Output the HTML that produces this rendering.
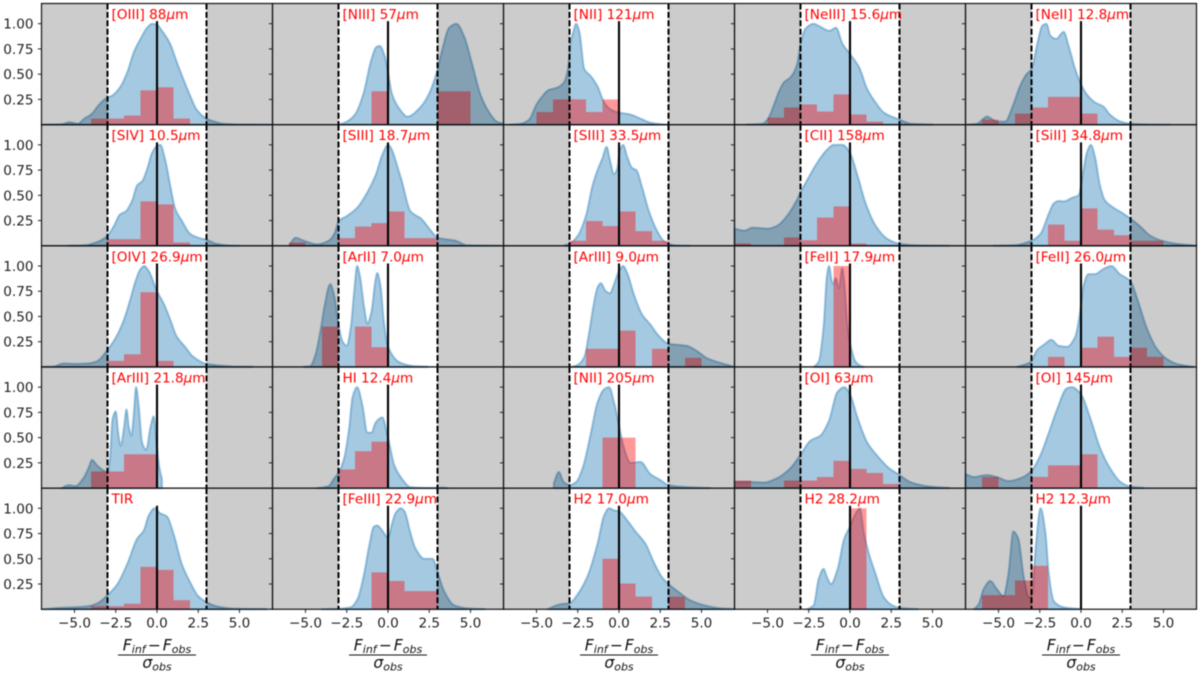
<!DOCTYPE html>
<html lang="en">
<head>
<meta charset="utf-8">
<title>Line flux residual distributions</title>
<style>
html,body{margin:0;padding:0;background:#fff;width:1200px;height:673px;overflow:hidden}
svg{display:block;filter:blur(0.45px)}
text{font-family:"DejaVu Sans","Liberation Sans",sans-serif}
</style>
</head>
<body>
<svg id="chart" xmlns="http://www.w3.org/2000/svg" width="1200" height="673" viewBox="0 0 1200 673"></svg>
<script>
const lineLabels = ['[OIII] 88','[NIII] 57','[NII] 121','[NeIII] 15.6','[NeII] 12.8',
'[SIV] 10.5','[SIII] 18.7','[SIII] 33.5','[CII] 158','[SiII] 34.8',
'[OIV] 26.9','[ArII] 7.0','[ArIII] 9.0','[FeII] 17.9','[FeII] 26.0',
'[ArIII] 21.8','HI 12.4','[NII] 205','[OI] 63','[OI] 145',
'TIR','[FeIII] 22.9','H2 17.0','H2 28.2','H2 12.3'];
const xTicks = [-5,-2.5,0,2.5,5];
const xTickLabels = ['\u22125.0','\u22122.5','0.0','2.5','5.0'];
const yTicks = [0.25,0.5,0.75,1];
const yTickLabels = ['0.25','0.50','0.75','1.00'];
const binEdges = [-7,-6,-5,-4,-3,-2,-1,0,1,2,3,4,5,6,7];
const limitSigma = 3;

const histValues = [
[0,0,0,.06,.06,.09,.34,.37,.06,0,0,0,0,0],
[0,0,0,0,0,0,.33,0,0,0,.33,.33,0,0],
[0,0,.125,.25,.25,.125,.25,0,0,0,0,0,0,0],
[0,0,.07,.17,.2,.13,.3,.1,.03,0,0,0,0,0],
[0,.05,0,.11,.17,.275,.275,.11,0,0,0,0,0,0],
[0,0,0,0,.066,.066,.44,.41,.033,0,0,0,0,0],
[0,.033,0,0,.076,.19,.225,.34,.076,.076,0,0,0,0],
[0,0,0,0,.05,.245,.195,.34,.145,.05,0,0,0,0],
[.023,0,0,.083,.055,.28,.39,.023,0,0,0,0,0,0],
[0,0,0,0,0,.21,.05,.37,.16,.105,.05,.05,0,0],
[0,0,0,0,.06,.125,.74,.06,0,0,0,0,0,0],
[0,0,0,.4,0,.4,.195,0,0,0,0,0,0,0],
[0,0,0,0,0,.18,.18,.36,0,.18,0,.09,0,0],
[0,0,0,0,0,0,1,0,0,0,0,0,0,0],
[0,0,0,0,0,.1,0,.19,.3,.1,.19,.1,0,0],
[0,0,0,.165,.165,.335,.335,0,0,0,0,0,0,0],
[0,0,0,0,.185,.365,.46,0,0,0,0,0,0,0],
[0,0,0,0,0,0,.5,.5,0,0,0,0,0,0],
[.075,0,0,.075,.075,.11,.27,.19,.15,.04,0,0,0,0],
[0,.11,0,0,.11,.225,.225,.335,0,0,0,0,0,0],
[0,0,0,.03,.03,.055,.42,.39,.09,0,0,0,0,0],
[0,0,0,0,0,0,.365,.28,.18,.18,0,0,0,0],
[0,0,0,0,0,0,.5,.255,.125,0,.125,0,0,0],
[0,0,0,0,0,0,0,1,0,0,0,0,0,0],
[0,.14,.14,.285,.43,0,0,0,0,0,0,0,0,0]
];

const kdeCurves = [
[[-7,0],[-5.8,.005],[-5.3,.025],[-4.8,.01],[-4.4,.06],[-4,.1],[-3.5,.2],[-3.1,.26],[-2.7,.29],[-2.2,.38],[-1.8,.52],[-1.4,.72],[-1,.85],[-.6,.96],[-.3,1],[0,.99],[.3,.93],[.8,.8],[1.2,.62],[1.6,.45],[2,.29],[2.4,.15],[3,.06],[3.5,.03],[4,.01],[5,.002],[6.9,0]],
[[-3,0],[-2.9,.005],[-2.5,.03],[-2,.1],[-1.5,.3],[-1,.65],[-.7,.77],[-.5,.78],[-.2,.68],[0,.52],[.25,.3],[.77,.14],[1.17,.08],[2,.18],[2.5,.31],[2.9,.49],[3,.55],[3.3,.75],[3.7,.96],[4.15,1],[4.6,.88],[5.1,.6],[5.6,.3],[6.1,.13],[6.6,.03],[7,.01]],
[[-6.65,0],[-5.95,.01],[-5.45,.05],[-5,.2],[-4.7,.27],[-4.3,.34],[-3.7,.37],[-3.3,.43],[-3.1,.55],[-2.9,.85],[-2.8,.9],[-2.6,1],[-2.4,.92],[-2.1,.55],[-1.7,.48],[-1.3,.38],[-.9,.22],[-.5,.15],[0,.12],[.7,.1],[1.3,.06],[1.9,.02],[2.7,.003],[3,0]],
[[-6.3,0],[-5.3,.01],[-5,.05],[-4.6,.2],[-4.3,.33],[-4,.42],[-3.6,.47],[-3.2,.6],[-3,.8],[-2.7,.95],[-2.2,1],[-1.8,.97],[-1.25,.93],[-.85,.96],[-.45,.8],[0,.7],[.55,.57],[1.05,.35],[1.55,.22],[2.05,.12],[3,.05],[3.7,.01],[5,.001]],
[[-6.9,0],[-6.3,.01],[-5.7,.08],[-5.1,.03],[-4.6,.03],[-4.1,.2],[-3.7,.38],[-3.3,.5],[-3,.55],[-2.65,.8],[-2.35,.98],[-2.1,1],[-1.85,.88],[-1.5,.85],[-1.05,.92],[-.75,.78],[-.35,.55],[0,.4],[.35,.3],[.85,.22],[1.35,.18],[1.75,.1],[2.4,.03],[3,.01],[4.2,.002],[5.4,0]],
[[-5.4,0],[-4.4,.005],[-3.6,.04],[-3,.1],[-2.6,.2],[-2.25,.31],[-1.9,.34],[-1.5,.45],[-1.2,.6],[-.9,.64],[-.6,.76],[-.3,.92],[0,.99],[.2,1],[.5,.85],[.8,.6],[1.1,.37],[1.5,.25],[2,.12],[2.5,.08],[3,.06],[3.6,.02],[4.4,.003],[5,0]],
[[-6,0],[-5.6,.08],[-5.1,.05],[-4.3,.015],[-3.6,.05],[-3.25,.12],[-3,.24],[-2.45,.3],[-1.85,.38],[-1.25,.53],[-.75,.7],[-.35,.9],[0,1],[.77,.68],[1.37,.34],[2,.27],[2.6,.15],[3,.08],[4.1,.05],[4.8,.005],[6.8,0]],
[[-3.3,.005],[-3,.02],[-2.5,.1],[-2,.3],[-1.6,.6],[-1.3,.75],[-1,.87],[-.75,.98],[-.55,.85],[-.3,.71],[-.1,.77],[.05,.95],[.25,1],[.5,.88],[.8,.77],[1.05,.75],[1.4,.58],[1.8,.35],[2.3,.15],[2.7,.05],[3,.02],[3.5,.003],[4.3,0]],
[[-7,.17],[-6.4,.15],[-5.9,.18],[-5,.17],[-4.4,.2],[-3.8,.3],[-3.2,.46],[-3,.53],[-2.6,.65],[-2,.82],[-1.4,.95],[-1,1],[-.45,1],[0,.92],[.45,.7],[.95,.42],[1.55,.2],[2.25,.07],[3,.02],[4,.005],[6,0]],
[[-5.3,0],[-4.1,.005],[-3,.05],[-2.45,.12],[-1.95,.32],[-1.65,.42],[-1.35,.445],[-1.05,.44],[-.55,.475],[-.15,.5],[.15,.75],[.35,.92],[.6,1],[.85,.88],[1.15,.6],[1.45,.45],[1.95,.38],[2.45,.33],[3,.27],[3.6,.19],[4.2,.1],[4.9,.05],[5.8,.02],[7,.002]],
[[-7,0],[-6.25,.005],[-5.65,.035],[-5,.03],[-4.2,.035],[-3.6,.06],[-3,.17],[-2.5,.29],[-2,.47],[-1.6,.68],[-1.3,.85],[-1,.97],[-.77,1],[-.5,.95],[0,.75],[.4,.63],[.8,.47],[1.2,.3],[1.7,.2],[2.2,.1],[3,.03],[3.8,.015],[4.6,.005],[5.8,.002]],
[[-5.1,0],[-4.7,.01],[-4.4,.12],[-4.05,.4],[-3.85,.6],[-3.5,.82],[-3.25,.7],[-3,.42],[-2.75,.25],[-2.5,.21],[-2.25,.4],[-2.05,.75],[-1.87,1],[-1.7,.9],[-1.45,.6],[-1.25,.43],[-1,.55],[-.75,.87],[-.65,.93],[-.45,.8],[-.25,.45],[0,.2],[.77,.04],[1.55,.01],[2.4,.003]],
[[-2.9,0],[-2.5,.02],[-2.1,.1],[-1.8,.35],[-1.5,.65],[-1.3,.79],[-1.1,.83],[-.8,.75],[-.55,.73],[-.3,.82],[0,.95],[.25,1],[.5,.93],[.9,.72],[1.4,.52],[1.9,.42],[2.4,.31],[3,.23],[3.5,.22],[4.1,.21],[4.7,.16],[5.3,.09],[5.95,.05],[7,.002]],
[[-2.2,0],[-1.9,.05],[-1.6,.4],[-1.4,.9],[-1.27,1],[-1.1,.85],[-1,.82],[-.87,.88],[-.67,.78],[-.47,.98],[-.35,.85],[-.15,.4],[.05,.2],[.35,.05],[.65,.01],[.85,0]],
[[-3.9,0],[-3.05,.05],[-2.65,.17],[-2.25,.22],[-1.8,.27],[-1.35,.21],[-.85,.2],[-.35,.3],[-.05,.55],[.15,.8],[.45,.92],[.85,.92],[1.35,.97],[1.85,1],[2.35,.92],[3,.85],[3.4,.68],[4,.38],[4.6,.18],[5.2,.08],[5.8,.03],[6.8,.002]],
[[-5.8,0],[-5.35,.03],[-4.95,.02],[-4.45,.1],[-4.1,.22],[-3.95,.28],[-3.6,.22],[-3,.16],[-2.85,.3],[-2.7,.68],[-2.5,.76],[-2.35,.55],[-2.2,.42],[-2,.6],[-1.85,.78],[-1.7,.6],[-1.55,.52],[-1.4,.75],[-1.27,1],[-1.1,.8],[-.9,.45],[-.65,.38],[-.4,.6],[-.2,.71],[0,.4],[.15,.2],[.3,.09]],
[[-4.3,0],[-3.6,.02],[-3.25,.1],[-3,.15],[-2.65,.3],[-2.35,.6],[-2.15,.9],[-1.87,1],[-1.55,.82],[-1.25,.55],[-1,.55],[-.75,.65],[-.35,.7],[0,.5],[.4,.22],[.77,.11],[1.37,.01],[2.8,.002],[3.3,.006],[3.6,0]],
[[-3.95,.05],[-3.65,.16],[-3.35,.06],[-3,.03],[-2.6,.06],[-2.2,.2],[-1.7,.55],[-1.3,.85],[-.9,.98],[-.6,1],[-.3,.85],[0,.62],[.3,.4],[.7,.25],[1.3,.26],[1.9,.14],[2.5,.08],[3,.03],[3.7,.015],[5.5,.001]],
[[-7,.06],[-6,.06],[-5.2,.055],[-4.4,.1],[-3.6,.2],[-3,.33],[-2.4,.47],[-1.8,.52],[-1.27,.67],[-.77,.95],[-.35,1],[0,.93],[.45,.7],[1.05,.45],[1.65,.32],[2.35,.2],[3,.13],[3.65,.06],[4.65,.02],[6,.002]],
[[-7,.14],[-6.5,.11],[-5.7,.13],[-5.1,.11],[-4.4,.07],[-3.65,.1],[-3,.17],[-2.45,.33],[-1.95,.55],[-1.45,.78],[-.85,.99],[-.55,1],[0,.93],[.55,.7],[1.15,.4],[1.75,.2],[2.4,.06],[3,.015],[3.8,.002]],
[[-7,0],[-5.85,.015],[-5.05,.02],[-4.2,.03],[-3.6,.06],[-3,.14],[-2.4,.25],[-1.8,.45],[-1.2,.7],[-.8,.78],[-.5,.93],[-.15,1],[.2,.95],[.6,.92],[1,.75],[1.5,.45],[2,.27],[2.5,.13],[3,.07],[3.6,.03],[4.6,.008],[6.6,.002]],
[[-4,0],[-3,.005],[-2.25,.02],[-1.85,.1],[-1.45,.35],[-1.15,.62],[-.85,.82],[-.65,.83],[-.35,.78],[0,.71],[.25,.85],[.45,.95],[.77,1],[1,.97],[1.37,.75],[1.67,.6],[2.2,.5],[2.7,.5],[3,.37],[3.4,.18],[4,.04],[4.8,.01],[5.85,.002]],
[[-4.35,0],[-3.55,.05],[-3,.06],[-2.5,.15],[-1.9,.33],[-1.3,.65],[-.9,.93],[-.6,1],[-.3,.98],[0,.97],[.5,.88],[1,.77],[1.6,.65],[2.1,.47],[2.6,.32],[3,.25],[3.7,.16],[4.3,.09],[5.15,.04],[6.15,.01],[7,.002]],
[[-2.6,0],[-2.2,.04],[-1.9,.3],[-1.6,.4],[-1.4,.32],[-1.15,.25],[-.75,.4],[-.35,.7],[0,.82],[.35,.95],[.6,1],[.85,.75],[1.15,.55],[1.55,.35],[2.05,.12],[2.55,.04],[3,.015],[4.1,.002]],
[[-6.5,0],[-6.2,.05],[-5.9,.2],[-5.5,.28],[-5.1,.2],[-4.7,.13],[-4.4,.35],[-4.1,.77],[-3.8,.7],[-3.45,.3],[-3.15,.12],[-2.95,.15],[-2.75,.6],[-2.45,1],[-2.15,.75],[-1.95,.35],[-1.65,.08],[-1.05,.02],[0,.002]]
];

const SVGNS = 'http://www.w3.org/2000/svg';
const svg = document.getElementById('chart');
const plotLeft = 41.5, plotTop = 3.5, colStep = 231, rowStep = 121.15;
const xMin = -7, xMax = 7, yMax = 1.2;

function mk(tag, attrs, parent){
  const el = document.createElementNS(SVGNS, tag);
  for (const k in attrs) el.setAttribute(k, attrs[k]);
  parent.appendChild(el);
  return el;
}
function xScale(col, v){ return plotLeft + col*colStep + (v - xMin)/(xMax - xMin)*colStep; }
function yScale(row, v){ return plotTop + (row+1)*rowStep - v/yMax*rowStep; }

function monotonePath(pts){
  const n = pts.length, m = new Array(n), d = [];
  for (let i=0;i<n-1;i++) d.push((pts[i+1][1]-pts[i][1])/(pts[i+1][0]-pts[i][0]));
  m[0]=d[0]; m[n-1]=d[n-2];
  for (let i=1;i<n-1;i++){
    const h0=pts[i][0]-pts[i-1][0], h1=pts[i+1][0]-pts[i][0];
    if (d[i-1]*d[i]<=0) m[i]=0;
    else m[i]=(3*(h0+h1))/((2*h1+h0)/d[i-1]+(h1+2*h0)/d[i]);
  }
  let s='';
  for (let i=0;i<n-1;i++){
    const h=(pts[i+1][0]-pts[i][0])/3;
    s+=' C'+(pts[i][0]+h).toFixed(2)+','+(pts[i][1]+m[i]*h).toFixed(2)+' '+(pts[i+1][0]-h).toFixed(2)+','+(pts[i+1][1]-m[i+1]*h).toFixed(2)+' '+pts[i+1][0].toFixed(2)+','+pts[i+1][1].toFixed(2);
  }
  return s;
}

lineLabels.forEach(function(label, idx){
  const col = idx % 5, row = Math.floor(idx/5);
  const left = xScale(col, xMin), right = xScale(col, xMax);
  const top = yScale(row, yMax), bottom = yScale(row, 0);

  const g = mk('g', {}, svg);
  
  

  const curve = kdeCurves[idx];
  const pxPts = curve.map(function(p){ return [xScale(col,p[0]), yScale(row,p[1])]; });
  const first = pxPts[0], last = pxPts[pxPts.length-1];
  const d = 'M'+first[0].toFixed(2)+','+bottom.toFixed(2)+' L'+first[0].toFixed(2)+','+first[1].toFixed(2)+monotonePath(pxPts)+' L'+last[0].toFixed(2)+','+bottom.toFixed(2)+' Z';
  const kde = mk('path', {d:d, fill:'rgba(31,119,180,0.4)', stroke:'rgba(31,119,180,0.4)', 'stroke-width':2, 'stroke-linejoin':'round'}, g);
  
  

  histValues[idx].forEach(function(h, b){
    if (!h) return;
    const x0 = xScale(col, binEdges[b]), x1 = xScale(col, binEdges[b+1]), y = yScale(row, h);
    const bar = mk('rect', {x:x0, y:y, width:x1-x0, height:bottom-y, fill:'rgba(255,0,0,0.4)'}, g);
    
    
  });

  const gl = xScale(col,-limitSigma), gr = xScale(col,limitSigma);
  const shadeL = mk('rect', {x:left, y:top, width:gl-left, height:bottom-top, fill:'rgba(0,0,0,0.2)'}, g);
  
  
  const shadeR = mk('rect', {x:gr, y:top, width:right-gr, height:bottom-top, fill:'rgba(0,0,0,0.2)'}, g);
  
  

  [gl, gr].forEach(function(x){
    const dash = mk('line', {x1:x, x2:x, y1:top, y2:bottom, stroke:'#000', 'stroke-width':2, 'stroke-dasharray':'6 2.4'}, g);
    
    
  });

  const zero = mk('line', {x1:xScale(col,0), x2:xScale(col,0), y1:yScale(row,1.025), y2:bottom, stroke:'#000', 'stroke-width':2.1}, g);
  
  

  const frame = mk('rect', {x:left, y:top, width:right-left, height:bottom-top, fill:'none', stroke:'#111', 'stroke-width':1.2}, g);
  
  

  yTicks.forEach(function(v, i){
    const y = yScale(row, v);
    const tick = mk('line', {x1:left-3.6, x2:left, y1:y, y2:y, stroke:'#222', 'stroke-width':1}, g);
    
    
    if (col === 0){
      const t = mk('text', {x:left-8, y:y+5, 'text-anchor':'end', 'font-size':13.6, fill:'#222'}, g);
      t.textContent = yTickLabels[i];
      
      
    }
  });

  const title = mk('text', {x:xScale(col,0)-45.5, y:top+15.5, 'font-size':13.6, fill:'#ff0000', opacity:1}, g);
  
  
  if (label === 'TIR'){
    title.textContent = label;
  } else {
    title.appendChild(document.createTextNode(label));
    const mu = mk('tspan', {'font-style':'italic'}, title);
    mu.textContent = '\u03BC';
    title.appendChild(document.createTextNode('m'));
  }

  if (row === 4){
    xTicks.forEach(function(v, i){
      const x = xScale(col, v);
      const tick = mk('line', {x1:x, x2:x, y1:bottom, y2:bottom+3.6, stroke:'#222', 'stroke-width':1}, g);
      
      
      const t = mk('text', {x:x, y:bottom+18, 'text-anchor':'middle', 'font-size':13.6, fill:'#222'}, g);
      t.textContent = xTickLabels[i];
      
      
    });

    const cx = xScale(col,0);
    const axisTitle = mk('g', {}, g);
    
    
    const num = mk('text', {x:cx, y:650.5, 'text-anchor':'middle', 'font-size':15.6, fill:'#111'}, axisTitle);
    const f1 = mk('tspan', {'font-style':'italic'}, num); f1.textContent = 'F';
    const s1 = mk('tspan', {'font-style':'italic','font-size':11, dy:2.4}, num); s1.textContent = 'inf';
    const op = mk('tspan', {dy:-2.4, dx:2}, num); op.textContent = '\u2212';
    const f2 = mk('tspan', {'font-style':'italic', dx:2}, num); f2.textContent = 'F';
    const s2 = mk('tspan', {'font-style':'italic','font-size':11, dy:2.4}, num); s2.textContent = 'obs';
    const bar = mk('line', {x1:cx-39, x2:cx+39, y1:655, y2:655, stroke:'#111', 'stroke-width':1}, axisTitle);
    
    
    const den = mk('text', {x:cx, y:668, 'text-anchor':'middle', 'font-size':15.6, fill:'#111'}, axisTitle);
    const sg = mk('tspan', {'font-style':'italic'}, den); sg.textContent = '\u03C3';
    const s3 = mk('tspan', {'font-style':'italic','font-size':11, dy:2.4}, den); s3.textContent = 'obs';
  }
});
</script>
</body>
</html>
